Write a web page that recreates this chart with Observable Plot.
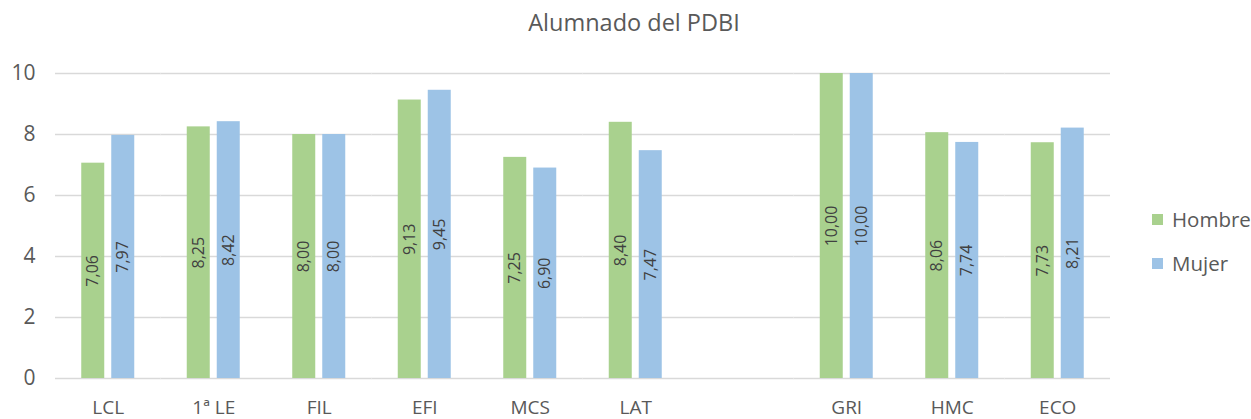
<!DOCTYPE html>
<html>
<head>
<meta charset="utf-8">
<script src="https://cdn.jsdelivr.net/npm/d3@7"></script>
<script src="https://cdn.jsdelivr.net/npm/@observablehq/plot@0.6"></script>
<style>
  body { margin: 0; background: #fff; }
  #wrap { position: relative; width: 1251px; height: 419px; font-family: "Open Sans", sans-serif; color: #595959; }
  #title { position: absolute; top: 6px; left: 0; width: 1268px; text-align: center; font-size: 23.5px; line-height: 32px; }
  .leg { position: absolute; left: 1152px; font-size: 20.5px; line-height: 24px; height: 24px; display: flex; align-items: center; }
  .sw { width: 11px; height: 11px; margin-right: 9px; }
  svg { display: block; }
</style>
</head>
<body>
<div id="wrap">
  <div id="title"></div>
</div>
<script>
const title = "Alumnado del PDBI";
const categories = ["LCL", "1ª LE", "FIL", "EFI", "MCS", "LAT", "GRI", "HMC", "ECO"];
const slots = ["LCL", "1ª LE", "FIL", "EFI", "MCS", "LAT", "_gap", "GRI", "HMC", "ECO"];
const series = ["Hombre", "Mujer"];
const hombre = [7.06, 8.25, 8.00, 9.13, 7.25, 8.40, 10.00, 8.06, 7.73];
const mujer = [7.97, 8.42, 8.00, 9.45, 6.90, 7.47, 10.00, 7.74, 8.21];
const colors = ["#A9D18E", "#9DC3E6"];
const yTicks = [0, 2, 4, 6, 8, 10];

document.getElementById("title").textContent = title;

const data = [];
categories.forEach((c, i) => {
  data.push({cat: c, sex: "Hombre", value: hombre[i]});
  data.push({cat: c, sex: "Mujer", value: mujer[i]});
});
const grid = slots.flatMap(s => yTicks.map(t => ({slot: s, t})));
const fmt = d => d.value.toFixed(2).replace(".", ",");

const chart = Plot.plot({
  width: 1251,
  height: 419,
  marginLeft: 55,
  marginRight: 141,
  marginTop: 73,
  marginBottom: 41,
  style: {fontFamily: "'Open Sans', sans-serif", fontSize: "19px", color: "#595959", background: "transparent"},
  fx: {domain: slots, paddingInner: 0, paddingOuter: 0, round: false, axis: "bottom", label: null, tickSize: 0, tickPadding: 22,
       tickFormat: d => d.startsWith("_") ? "" : d},
  x: {domain: series, paddingInner: 7 / 30, paddingOuter: 0.875, round: false, axis: null},
  y: {domain: [0, 10], label: null},
  color: {domain: series, range: colors},
  marks: [
    Plot.ruleY(grid, {fx: "slot", y: "t", stroke: "#D9D9D9", strokeWidth: 1.5}),
    Plot.axisY(yTicks, {facetAnchor: "left", tickSize: 0, tickPadding: 20, fontSize: 21, label: null, tickFormat: d => String(d)}),
    Plot.barY(data, {fx: "cat", x: "sex", y: "value", fill: "sex"}),
    Plot.text(data, {fx: "cat", x: "sex", y: d => d.value / 2, text: fmt, rotate: -90, fill: "#404040", fontSize: 16})
  ]
});
const wrap = document.getElementById("wrap");
wrap.appendChild(chart);

series.forEach((s, i) => {
  const el = document.createElement("div");
  el.className = "leg";
  el.style.top = (i === 0 ? 207 : 251) + "px";
  const sw = document.createElement("div");
  sw.className = "sw";
  sw.style.background = colors[i];
  el.appendChild(sw);
  el.appendChild(document.createTextNode(s));
  wrap.appendChild(el);
});
</script>
</body>
</html>
